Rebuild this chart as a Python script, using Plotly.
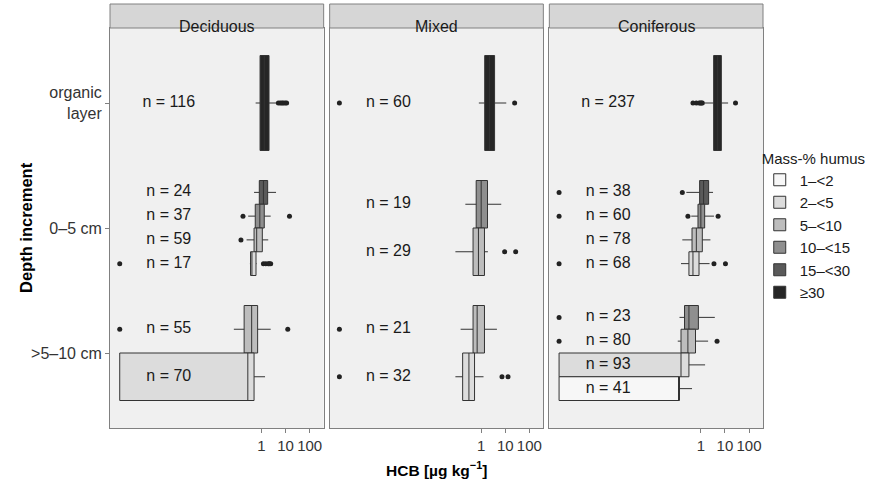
import plotly.graph_objects as go
from plotly.subplots import make_subplots

# ---------------- data ----------------
panels = ["Deciduous", "Mixed", "Coniferous"]
depth_labels = [">5–10 cm", "0–5 cm", "organic<br>layer"]   # y = 1, 2, 3
classes = ["1–<2", "2–<5", "5–<10", "10–<15", "15–<30", "≥30"]
class_colors = ["#F7F7F7", "#DCDCDC", "#BDBDBD", "#8F8F8F", "#5A5A5A", "#262626"]

# one entry per box: panel index, depth index (0=>5-10, 1=0-5, 2=organic), class index
box_panel = [0, 0, 0, 0, 0, 0, 0,
             1, 1, 1, 1, 1,
             2, 2, 2, 2, 2, 2, 2, 2, 2]
box_depth = [2, 1, 1, 1, 1, 0, 0,
             2, 1, 1, 0, 0,
             2, 1, 1, 1, 1, 0, 0, 0, 0]
box_class = [5, 4, 3, 2, 1, 2, 1,
             5, 3, 2, 2, 1,
             5, 4, 3, 2, 1, 3, 2, 1, 0]
box_n = [116, 24, 37, 59, 17, 55, 70,
         60, 19, 29, 21, 32,
         237, 38, 60, 78, 68, 23, 80, 93, 41]
box_low = [0.57, 0.49, 0.28, 0.24, 0.33, 0.071, 1.3e-6,
           0.8, 0.22, 0.085, 0.14, 0.085,
           1.44, 0.25, 0.4, 0.17, 0.15, 0.13, 0.11, 1.3e-6, 1.3e-6]
box_q1 = [0.87, 0.81, 0.55, 0.49, 0.35, 0.19, 1.3e-6,
          1.4, 0.62, 0.46, 0.46, 0.17,
          3.4, 0.89, 0.76, 0.43, 0.32, 0.21, 0.15, 1.3e-6, 1.3e-6]
box_med = [1.3, 1.2, 0.85, 0.63, 0.40, 0.39, 0.27,
           2.2, 1.0, 0.77, 0.68, 0.31,
           5.0, 1.3, 1.0, 0.65, 0.47, 0.32, 0.29, 0.15, 0.12]
box_q3 = [2.05, 1.8, 1.3, 1.08, 0.59, 0.69, 0.49,
          3.6, 1.83, 1.37, 1.37, 0.53,
          7.1, 2.1, 1.44, 1.15, 0.84, 0.79, 0.6, 0.32, 0.13]
box_high = [4.3, 4.0, 2.4, 1.9, 0.62, 2.4, 1.4,
            11.0, 6.8, 1.9, 4.5, 1.25,
            13.5, 3.2, 3.5, 2.5, 2.3, 3.8, 2.0, 1.5, 0.43]

# outliers: panel, depth, class, value
out_panel = [0, 0, 0, 0, 0, 0, 0, 0, 0, 0, 0, 0, 0, 0, 0, 0, 0,
             1, 1, 1, 1, 1, 1, 1, 1,
             2, 2, 2, 2, 2, 2, 2, 2, 2, 2, 2, 2, 2, 2, 2, 2, 2, 2]
out_depth = [2, 2, 2, 2, 2, 2, 1, 1, 1, 1, 1, 1, 1, 1, 0, 0, 1,
             2, 2, 1, 1, 0, 0, 0, 0,
             2, 2, 2, 2, 2, 2, 2, 1, 1, 1, 1, 1, 1, 1, 1, 0, 0, 0]
out_class = [5, 5, 5, 5, 5, 5, 3, 3, 2, 1, 1, 1, 1, 1, 2, 2, 1,
             5, 5, 2, 2, 2, 1, 1, 1,
             5, 5, 5, 5, 5, 5, 5, 4, 4, 3, 3, 3, 1, 1, 1, 3, 2, 2]
out_value = [5.0, 6.0, 7.0, 8.0, 9.5, 11.0, 0.17, 14.5, 0.14, 1.3e-6, 1.2, 1.5, 1.9, 2.4, 1.3e-6, 12.3, 2.1,
             1.3e-6, 24.5, 9.4, 27.0, 1.3e-6, 1.3e-6, 7.3, 13.0,
             0.47, 0.65, 0.85, 0.95, 1.05, 1.15, 27.5, 1.3e-6, 0.17, 1.3e-6, 0.29, 5.2, 1.3e-6, 3.5, 10.5,
             1.3e-6, 1.3e-6, 4.7]

x_ticks = [1, 10, 100]
x_ticktext = ["1", "10", "100"]
n_label_x = 10 ** -3.85
x_range_log = [-6.29, 2.58]
dodge_total = 0.76

FONT = "Liberation Sans, Arial, Helvetica, sans-serif"

fig = make_subplots(rows=1, cols=3, shared_yaxes=True, horizontal_spacing=6 / 653)


def box_position(i):
    grp = sorted(box_class[k] for k in range(len(box_n))
                 if box_panel[k] == box_panel[i] and box_depth[k] == box_depth[i])
    k = len(grp)
    j = grp.index(box_class[i])
    w = dodge_total / k
    return box_depth[i] + 1 + (j - (k - 1) / 2) * w, w


legend_shown = set()
for i in range(len(box_n)):
    pos, w = box_position(i)
    c = box_class[i]
    col = box_panel[i] + 1
    fig.add_trace(go.Box(
        y=[pos], q1=[box_q1[i]], median=[box_med[i]], q3=[box_q3[i]],
        lowerfence=[box_low[i]], upperfence=[box_high[i]],
        orientation="h", width=w, whiskerwidth=0, boxpoints=False,
        fillcolor=class_colors[c], line=dict(color="#333333", width=1),
        name=classes[c], legendgroup=classes[c], legendrank=c + 1,
        showlegend=c not in legend_shown, hoverinfo="skip"),
        row=1, col=col)
    legend_shown.add(c)
    fig.add_trace(go.Scatter(
        x=[n_label_x], y=[pos], mode="text", text=[f"n = {box_n[i]}"],
        textfont=dict(family=FONT, size=16, color="#1a1a1a"),
        showlegend=False, hoverinfo="skip"), row=1, col=col)

# outliers
for p in range(3):
    xs, ys = [], []
    for i in range(len(out_value)):
        if out_panel[i] != p:
            continue
        idx = [k for k in range(len(box_n)) if box_panel[k] == p and box_depth[k] == out_depth[i]
               and box_class[k] == out_class[i]][0]
        pos, _ = box_position(idx)
        xs.append(out_value[i])
        ys.append(pos)
    fig.add_trace(go.Scatter(x=xs, y=ys, mode="markers",
                             marker=dict(color="#222222", size=5),
                             showlegend=False, hoverinfo="skip"), row=1, col=p + 1)

for p in range(3):
    xa = "xaxis" if p == 0 else f"xaxis{p + 1}"
    fig.layout[xa].update(
        type="log", range=x_range_log, tickvals=x_ticks, ticktext=x_ticktext,
        tickangle=0,
        ticks="outside", ticklen=4, tickcolor="#808080", showgrid=False, zeroline=False,
        showline=True, mirror=True, linecolor="#808080", linewidth=1,
        tickfont=dict(family=FONT, size=15, color="#333333"))
    ya = "yaxis" if p == 0 else f"yaxis{p + 1}"
    fig.layout[ya].update(
        range=[0.4, 3.6], showgrid=False, zeroline=False,
        showline=True, mirror=True, linecolor="#808080", linewidth=1,
        tickvals=[1, 2, 3], ticktext=depth_labels,
        ticks="outside" if p == 0 else "", ticklen=4, tickcolor="#808080",
        tickfont=dict(family=FONT, size=16, color="#333333"))
    # strip
    fig.add_shape(type="rect", xref=f"x{'' if p == 0 else p + 1} domain", yref="paper",
                  x0=0, x1=1, y0=1, y1=1 + 24 / 400,
                  fillcolor="#D6D6D6", line=dict(color="#808080", width=1))
    fig.add_annotation(text=panels[p], xref=f"x{'' if p == 0 else p + 1} domain", yref="paper",
                       x=0.5, y=1 + 12 / 400, showarrow=False,
                       font=dict(family=FONT, size=16, color="#1a1a1a"))

fig.add_annotation(text="<b>HCB [µg kg<sup>−1</sup>]</b>", xref="paper", yref="paper",
                   x=0.5, y=-41 / 400, yanchor="middle", showarrow=False,
                   font=dict(family=FONT, size=15.5, color="#000000"))
fig.add_annotation(text="<b>Depth increment</b>", xref="paper", yref="paper",
                   x=-95 / 653, y=0.5, textangle=-90, showarrow=False,
                   font=dict(family=FONT, size=16.5, color="#000000"))

fig.update_layout(
    width=887, height=480,
    margin=dict(l=110, r=124, t=28, b=52),
    paper_bgcolor="white", plot_bgcolor="#F0F0F0",
    boxmode="overlay",
    legend=dict(title=dict(text="Mass-% humus", font=dict(family=FONT, size=15, color="#1a1a1a")),
                font=dict(family=FONT, size=15, color="#1a1a1a"),
                x=0.995, y=0.71, xanchor="left", yanchor="top",
                tracegroupgap=0, itemwidth=30, bgcolor="rgba(0,0,0,0)"),
    font=dict(family=FONT),
)

fig.write_html("out.html")
